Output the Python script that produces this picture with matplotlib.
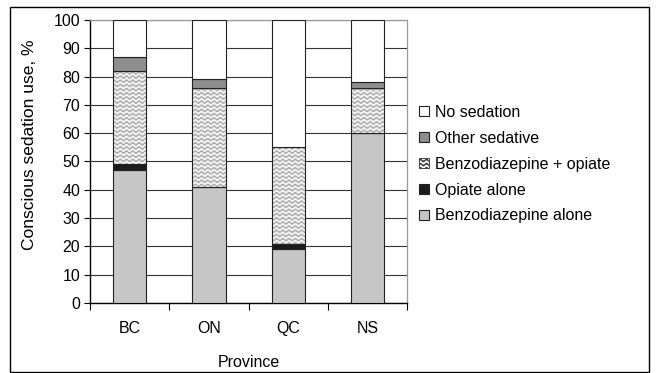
import warnings
import numpy as np
import matplotlib
matplotlib.use("Agg")
import matplotlib.pyplot as plt
import matplotlib.hatch as mhatch
from matplotlib.path import Path
from matplotlib.patches import Rectangle, Patch

warnings.filterwarnings("ignore")

provinces = ["BC", "ON", "QC", "NS"]
benzo_alone = [47, 41, 19, 60]
opiate_alone = [2, 0, 2, 0]
benzo_opiate = [33, 35, 34, 16]
other_sedative = [5, 3, 0, 2]
no_sedation = [13, 21, 45, 22]


# wavy hatch pattern, "~" in the hatch string
class WaveHatch(mhatch.HatchPatternBase):
    def __init__(self, hatch, density):
        self.num_lines = int(hatch.count('~') * density)
        self.pts = 8
        self.periods = 16 if self.num_lines else 0
        self.num_vertices = self.num_lines * (self.periods * self.pts + 1)

    def set_vertices_and_codes(self, vertices, codes):
        n = self.num_lines
        m = self.periods * self.pts + 1
        xs = np.linspace(0, 1, m)
        amp = 0.3 / n
        k = 0
        for i in range(n):
            y0 = (i + 0.5) / n
            vertices[k:k + m, 0] = xs
            vertices[k:k + m, 1] = y0 + amp * np.sin(2 * np.pi * self.periods * xs)
            codes[k] = Path.MOVETO
            codes[k + 1:k + m] = Path.LINETO
            k += m


mhatch._hatch_types.append(WaveHatch)

plt.rcParams['font.family'] = ['Liberation Sans', 'DejaVu Sans']
plt.rcParams['hatch.linewidth'] = 0.8
HATCH_COL = '#a8a8a8'

fig = plt.figure(figsize=(6.58, 3.73), dpi=100)
fig.patches.append(Rectangle((0.0152, 0.004), 0.9711, 0.977, transform=fig.transFigure,
                             fill=False, edgecolor='black', linewidth=1.0))
ax = fig.add_axes([0.1368, 0.1877, 0.4818, 0.7587])

x = np.arange(len(provinces))
w = 0.42
series = [
    (benzo_alone, "Benzodiazepine alone", dict(color='#c6c6c6')),
    (opiate_alone, "Opiate alone", dict(color='#1c1c1c')),
    (benzo_opiate, "Benzodiazepine + opiate", dict(color='#f2f2f2', hatch='~~~~')),
    (other_sedative, "Other sedative", dict(color='#8e8e8e')),
    (no_sedation, "No sedation", dict(color='white')),
]
bottom = np.zeros(len(provinces))
handles = []
for vals, lab, st in series:
    vals = np.array(vals, dtype=float)
    hatch = st.get('hatch')
    if hatch:
        # hatch takes the edge colour, so draw fill+hatch and outline separately
        ax.bar(x, vals, w, bottom=bottom, color=st['color'], hatch=hatch,
               edgecolor=HATCH_COL, linewidth=0, zorder=3)
    ax.bar(x, vals, w, bottom=bottom, color=st['color'] if not hatch else 'none',
           edgecolor='#222222', linewidth=0.8, zorder=3)
    bottom += vals
    handles.append((st['color'], hatch, lab))

legend_handles = []
for col, hatch, lab in handles[::-1]:
    if hatch:
        legend_handles.append(Patch(facecolor=col, hatch=hatch, edgecolor='#333333',
                                    linewidth=0.6, label=lab))
    else:
        legend_handles.append(Patch(facecolor=col, edgecolor='#222222',
                                    linewidth=0.8, label=lab))

ax.set_xlim(-0.5, 3.5)
ax.set_ylim(0, 100)
ax.set_yticks(range(0, 101, 10))
ax.yaxis.grid(True, color='#333333', linewidth=0.8, zorder=0)
ax.set_axisbelow(True)
ax.set_xticks([-0.5, 0.5, 1.5, 2.5, 3.5])
ax.set_xticklabels([])
ax.set_xticks(x, minor=True)
ax.set_xticklabels(provinces, minor=True)
ax.tick_params(axis='x', which='minor', length=0, pad=13, labelsize=11.5)
ax.tick_params(axis='x', which='major', length=5, direction='out')
ax.tick_params(axis='y', length=4, labelsize=11.5, pad=3)
for s in ['top', 'right']:
    ax.spines[s].set_color('#999999')
    ax.spines[s].set_linewidth(0.9)
ax.spines['left'].set_linewidth(1.0)
ax.spines['bottom'].set_linewidth(1.0)

ax.set_xlabel("Province", fontsize=11.5, labelpad=14)
ax.set_ylabel("Conscious sedation use, %", fontsize=12.5)
ax.yaxis.set_label_coords(-0.167, 0.558)

fig.legend(handles=legend_handles, loc='upper left', bbox_to_anchor=(0.615, 0.757),
           frameon=False, fontsize=11.5, handlelength=0.6, handleheight=0.6,
           handletextpad=0.4, labelspacing=0.68)

fig.savefig("out.png", dpi=100)
